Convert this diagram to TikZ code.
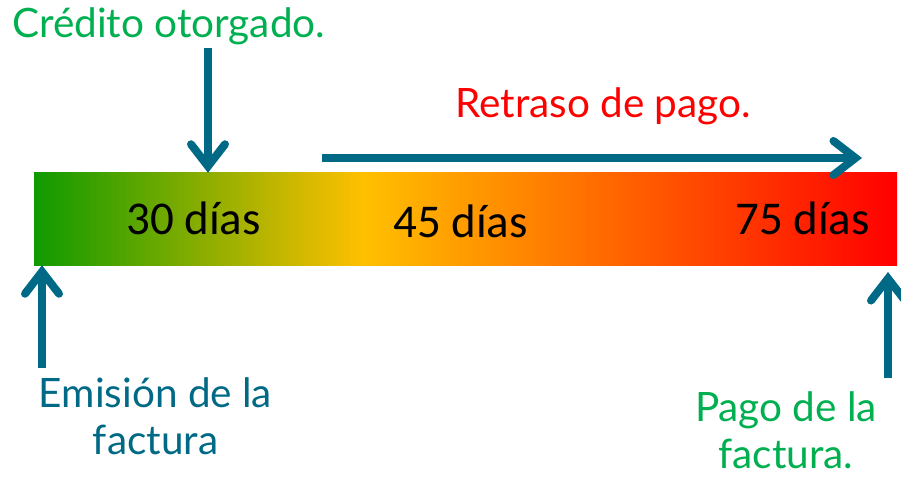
\documentclass[tikz,border=0pt]{standalone}
\usepackage{fontspec}
\usetikzlibrary{arrows.meta}
\newfontfamily\gillfont{Lato}
\newfontfamily\calfont{Carlito}
\definecolor{cgreen}{RGB}{16,154,0}
\definecolor{cyellow}{RGB}{255,192,0}
\definecolor{cred}{RGB}{255,0,0}
\definecolor{tealc}{RGB}{0,106,134}
\definecolor{lgreen}{RGB}{0,176,80}
\pgfdeclarehorizontalshading{timeline}{100bp}{color(0bp)=(cgreen); color(25bp)=(cgreen); color(44.06bp)=(cyellow); color(75bp)=(cred); color(100bp)=(cred)}
\tikzset{
  gtxt/.style={inner sep=0pt, font={\gillfont\fontsize{40.5pt}{47pt}\selectfont}},
  dtxt/.style={inner sep=0pt, text=black, font={\calfont\fontsize{47pt}{56pt}\selectfont}},
  arr/.style={draw=tealc, line width=8pt, line cap=butt, -{Straight Barb[length=22pt, width=34pt, line cap=round]}},
  barbox/.style={inner sep=0pt, minimum width=863pt, minimum height=92pt, shade, shading=timeline}
}
\begin{document}
\begin{tikzpicture}
\useasboundingbox (0,0) rectangle (901pt,-478pt);
\node[barbox] (bar) at (465.5pt,-219pt) {};
\node[gtxt, text=lgreen, anchor=base west] (cred) at (12pt,-38pt) {Crédito otorgado.};
\node[gtxt, text=red, anchor=base west] (retr) at (455pt,-118pt) {Retraso de pago.};
\node[dtxt, anchor=base west] (d30) at (126pt,-235pt) {30 días};
\node[dtxt, anchor=base west] (d45) at (393pt,-237pt) {45 días};
\node[dtxt, anchor=base west] (d75) at (735pt,-235pt) {75 días};
\node[gtxt, text=tealc, align=center, anchor=base] (emi) at (155.5pt,-454pt) {Emisión de la\\factura};
\node[gtxt, text=lgreen, align=center, anchor=base] (pago) at (786pt,-468pt) {Pago de la\\factura.};
\coordinate (c1) at (208pt,-48pt);
\coordinate (r1) at (322pt,-158pt);
\coordinate (r2) at (862pt,-158pt);
\coordinate (e1) at (42pt,-368pt);
\coordinate (p1) at (888pt,-378pt);
\coordinate (p2) at (888pt,-272pt);
\draw[arr] (c1) -- (c1 |- bar.north);
\draw[arr] (r1) -- (r2);
\draw[arr] (e1) -- (e1 |- bar.south);
\draw[arr] (p1) -- (p2);
\end{tikzpicture}
\end{document}
